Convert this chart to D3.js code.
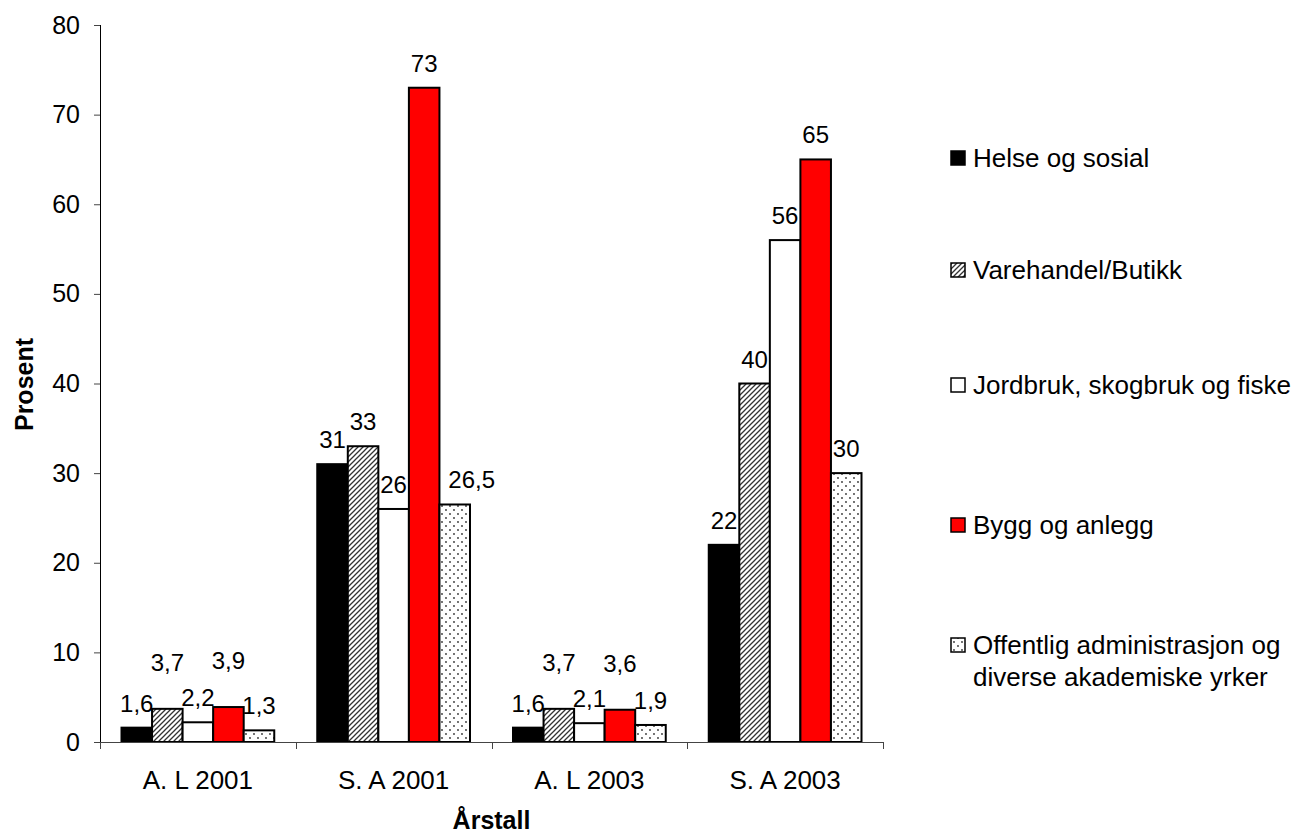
<!DOCTYPE html>
<html>
<head>
<meta charset="utf-8">
<script src="https://cdn.jsdelivr.net/npm/d3@7"></script>
<style>
  html, body { margin: 0; padding: 0; background: #fff; }
  svg { display: block; font-family: "Liberation Sans", Arial, sans-serif; }
</style>
</head>
<body>
<svg id="chart" width="1303" height="836"></svg>
<script>
// ---- data ----
const categories = ["A. L 2001", "S. A 2001", "A. L 2003", "S. A 2003"];
const seriesNames = [
  "Helse og sosial",
  "Varehandel/Butikk",
  "Jordbruk, skogbruk og fiske",
  "Bygg og anlegg",
  "Offentlig administrasjon og diverse akademiske yrker"
];
const helse      = [1.6, 31, 1.6, 22];
const varehandel = [3.7, 33, 3.7, 40];
const jordbruk   = [2.2, 26, 2.1, 56];
const bygg       = [3.9, 73, 3.6, 65];
const offentlig  = [1.3, 26.5, 1.9, 30];
const yTicks = [0, 10, 20, 30, 40, 50, 60, 70, 80];
const yTitle = "Prosent";
const xTitle = "Årstall";

// label nudges (pixels) for labels that were moved in the original
const labelLift = [[0,0,0,0],[22,0,22,0],[0,0,0,0],[22,0,22,0],[0,0,0,0]];
const labelShiftX = [[0,0,0,0],[0,0,0,0],[0,0,0,0],[0,0,0,0],[0,17,0,0]];

const seriesValues = [helse, varehandel, jordbruk, bygg, offentlig];
const fills = ["#000000", "url(#hatch)", "#ffffff", "#ff0000", "url(#dots)"];
const FS = 25;

const svg = d3.select("#chart");
const defs = svg.append("defs");

// hatch pattern
const hp = defs.append("pattern").attr("id", "hatch").attr("patternUnits", "userSpaceOnUse")
  .attr("width", 5).attr("height", 5);
hp.append("rect").attr("width", 5).attr("height", 5).attr("fill", "#fff");
hp.append("path").attr("d", "M-1,1 l2,-2 M0,5 l5,-5 M4,6 l2,-2")
  .attr("stroke", "#333").attr("stroke-width", 1.3);

// dots pattern
const dp = defs.append("pattern").attr("id", "dots").attr("patternUnits", "userSpaceOnUse")
  .attr("width", 8).attr("height", 8);
dp.append("rect").attr("width", 8).attr("height", 8).attr("fill", "#fff");
dp.append("circle").attr("cx", 2).attr("cy", 2).attr("r", 0.9).attr("fill", "#333");
dp.append("circle").attr("cx", 6).attr("cy", 6).attr("r", 0.9).attr("fill", "#333");

const plotLeft = 100, plotRight = 883, plotTop = 25, plotBottom = 742;

const y = d3.scaleLinear().domain([0, 80]).range([plotBottom, plotTop]);
const x0 = d3.scaleBand().domain(categories).range([plotLeft, plotRight]).paddingInner(0).paddingOuter(0);
const groupPad = 21.5;
const x1 = d3.scaleBand().domain(d3.range(seriesNames.length))
  .range([groupPad, x0.bandwidth() - groupPad]).padding(0);

const fmt = v => String(v).replace(".", ",");

// bars
seriesValues.forEach((vals, si) => {
  svg.append("g").selectAll("rect").data(vals).join("rect")
    .attr("x", (d, ci) => x0(categories[ci]) + x1(si))
    .attr("y", d => y(d))
    .attr("width", x1.bandwidth())
    .attr("height", d => y(0) - y(d))
    .attr("fill", fills[si])
    .attr("stroke", "#000")
    .attr("stroke-width", 2);
});

// y axis
const yAxis = d3.axisLeft(y).tickValues(yTicks).tickSize(6).tickPadding(14).tickFormat(d3.format("d"));
const gy = svg.append("g").attr("transform", `translate(${plotLeft},0)`).call(yAxis);
gy.select(".domain").attr("stroke", "#000").attr("d", `M0.5,${plotTop}V${plotBottom}`);
gy.selectAll(".tick line").attr("stroke", "#444");
gy.selectAll(".tick text").attr("font-size", FS).attr("fill", "#000")
  .attr("font-family", "'Liberation Sans', Arial, sans-serif");

// x axis
const gx = svg.append("g").attr("transform", `translate(0,${plotBottom})`);
gx.append("line").attr("x1", plotLeft).attr("x2", plotRight).attr("y1", 0.5).attr("y2", 0.5)
  .attr("stroke", "#444").attr("stroke-width", 1);
const boundaries = categories.map(c => x0(c)).concat([x0(categories[categories.length - 1]) + x0.bandwidth()]);
gx.selectAll("line.tk").data(boundaries).join("line").attr("class", "tk")
  .attr("x1", d => Math.round(d) + 0.5).attr("x2", d => Math.round(d) + 0.5)
  .attr("y1", 0).attr("y2", 7).attr("stroke", "#444");
gx.selectAll("text").data(categories).join("text")
  .attr("x", d => x0(d) + x0.bandwidth() / 2)
  .attr("y", 47)
  .attr("text-anchor", "middle")
  .attr("font-size", 26)
  .text(d => d);

// value labels
seriesValues.forEach((vals, si) => {
  svg.append("g").selectAll("text").data(vals).join("text")
    .attr("x", (d, ci) => x0(categories[ci]) + x1(si) + x1.bandwidth() / 2 + labelShiftX[si][ci])
    .attr("y", (d, ci) => y(d) - 16 - labelLift[si][ci])
    .attr("text-anchor", "middle")
    .attr("font-size", 24)
    .text(d => fmt(d));
});

// axis titles
svg.append("text")
  .attr("transform", `translate(33,${(plotTop + plotBottom) / 2 + 1}) rotate(-90)`)
  .attr("text-anchor", "middle")
  .attr("font-size", FS).attr("font-weight", "bold")
  .text(yTitle);
svg.append("text")
  .attr("x", (plotLeft + plotRight) / 2)
  .attr("y", 829)
  .attr("text-anchor", "middle")
  .attr("font-size", FS).attr("font-weight", "bold")
  .text(xTitle);

// legend
const legendY = [158, 270, 385, 525, 645];
const legendLines = [
  ["Helse og sosial"],
  ["Varehandel/Butikk"],
  ["Jordbruk, skogbruk og fiske"],
  ["Bygg og anlegg"],
  ["Offentlig administrasjon og", "diverse akademiske yrker"]
];
const lg = svg.append("g");
seriesNames.forEach((name, i) => {
  const cy = legendY[i];
  lg.append("rect").attr("x", 951).attr("y", cy - 7).attr("width", 14).attr("height", 14)
    .attr("fill", fills[i]).attr("stroke", "#000").attr("stroke-width", 1.5);
  const t = lg.append("text").attr("x", 973).attr("y", cy + 9).attr("font-size", 26);
  legendLines[i].forEach((ln, k) => {
    t.append("tspan").attr("x", 973).attr("dy", k === 0 ? 0 : 32).text(ln);
  });
});
</script>
</body>
</html>
